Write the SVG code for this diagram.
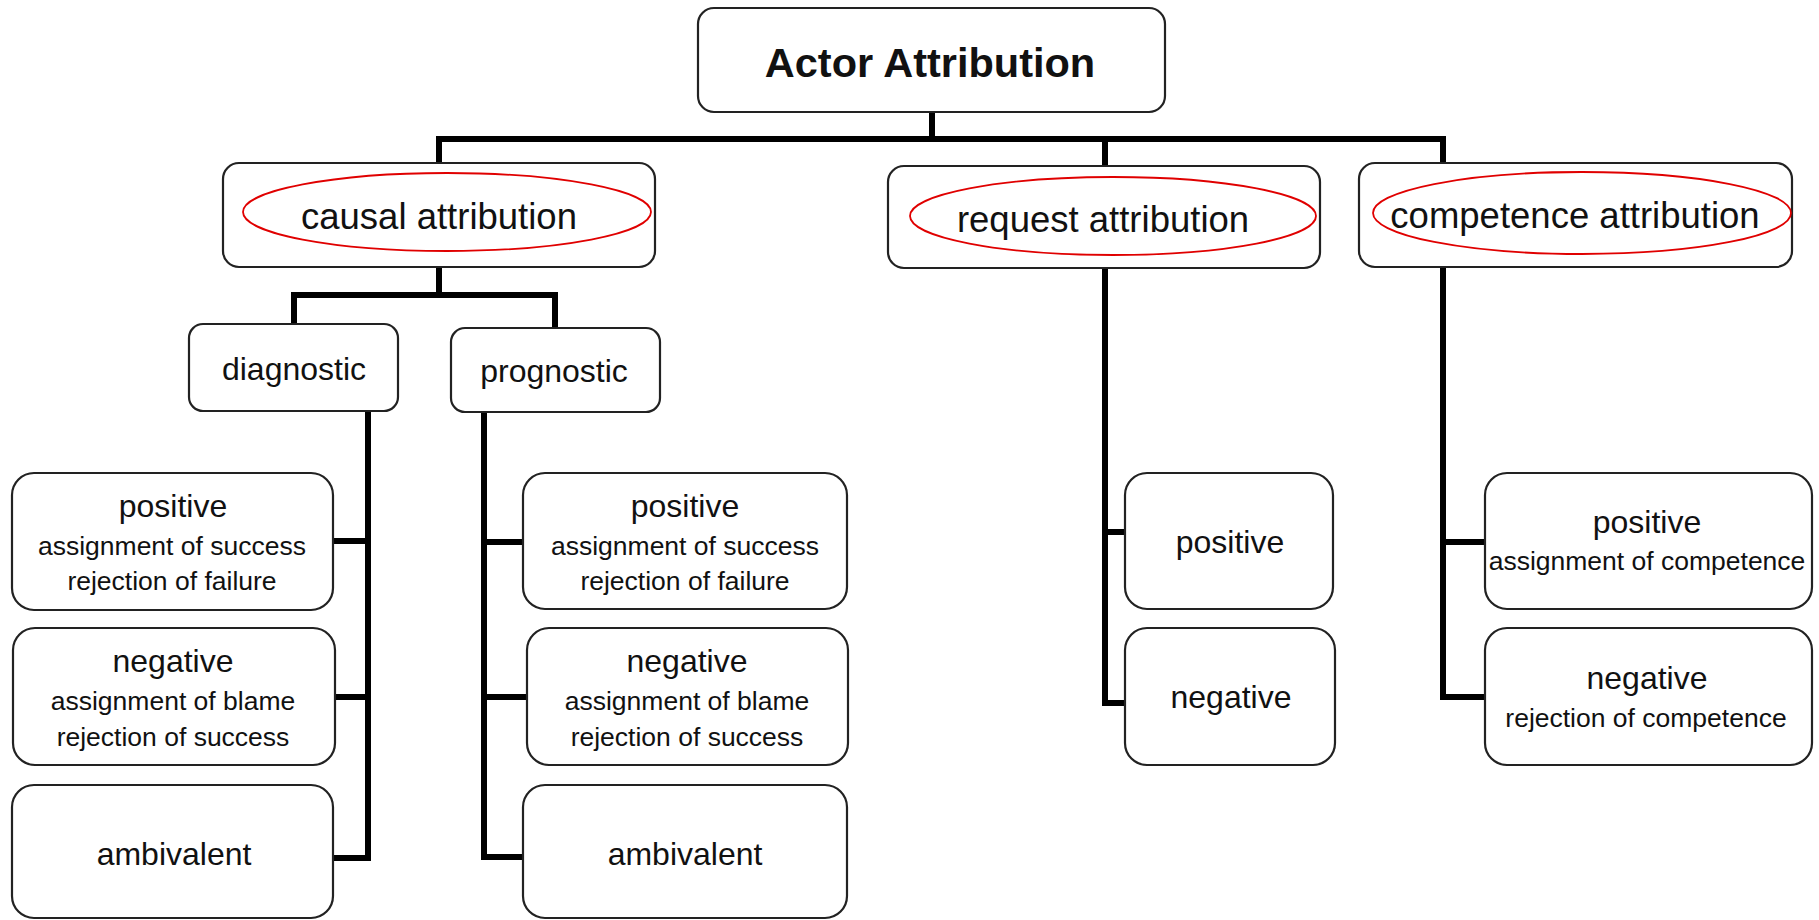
<svg xmlns="http://www.w3.org/2000/svg" width="1819" height="920" viewBox="0 0 1819 920">
<style>
.box{fill:#fff;stroke:#222;stroke-width:2.2}
.conn{fill:none;stroke:#000;stroke-width:6;stroke-linejoin:miter;stroke-linecap:square}
.ring{fill:none;stroke:#e00000;stroke-width:1.8}
text{font-family:"Liberation Sans",Arial,sans-serif;fill:#111;text-anchor:middle}
.title{font-size:41.5px;font-weight:bold}
.l1{font-size:36.5px}
.l2{font-size:32px}
.l3{font-size:26.5px}
</style>
<rect width="1819" height="920" fill="#fff"/>
<g id="connectors">
<path class="conn" d="M932,112 V139"/>
<path class="conn" d="M439,163 V139 H1443 V163"/>
<path class="conn" d="M1105,139 V166"/>
<path class="conn" d="M439,267 V295"/>
<path class="conn" d="M294,323 V295 H555 V328"/>
<path class="conn" d="M368,411 V858 H334"/>
<path class="conn" d="M334,541 H368"/>
<path class="conn" d="M336,697 H368"/>
<path class="conn" d="M484,412 V857 H523"/>
<path class="conn" d="M484,542 H523"/>
<path class="conn" d="M484,697 H527"/>
<path class="conn" d="M1105,268 V703 H1125"/>
<path class="conn" d="M1105,532 H1125"/>
<path class="conn" d="M1443,267 V697 H1485"/>
<path class="conn" d="M1443,542 H1485"/>
</g>
<g id="actor-attribution">
<rect class="box" x="698" y="8" width="467" height="104" rx="16"/>
<text class="title" x="930" y="77">Actor Attribution</text>
</g>
<g id="causal-attribution">
<rect class="box" x="223" y="163" width="432" height="104" rx="16"/>
<ellipse class="ring" cx="447" cy="212" rx="204" ry="39"/>
<text class="l1" x="439" y="229">causal attribution</text>
</g>
<g id="request-attribution">
<rect class="box" x="888" y="166" width="432" height="102" rx="16"/>
<ellipse class="ring" cx="1113" cy="216" rx="203" ry="39"/>
<text class="l1" x="1103" y="232">request attribution</text>
</g>
<g id="competence-attribution">
<rect class="box" x="1359" y="163" width="433" height="104" rx="16"/>
<ellipse class="ring" cx="1582" cy="213" rx="209" ry="41"/>
<text class="l1" x="1575" y="228">competence attribution</text>
</g>
<g id="diagnostic">
<rect class="box" x="189" y="324" width="209" height="87" rx="14"/>
<text class="l2" x="294" y="380">diagnostic</text>
</g>
<g id="prognostic">
<rect class="box" x="451" y="328" width="209" height="84" rx="14"/>
<text class="l2" x="554" y="382">prognostic</text>
</g>
<g id="diag-positive">
<rect class="box" x="12" y="473" width="321" height="137" rx="22"/>
<text class="l2" x="173" y="517">positive</text>
<text class="l3" x="172" y="555">assignment of success</text>
<text class="l3" x="172" y="590">rejection of failure</text>
</g>
<g id="diag-negative">
<rect class="box" x="13" y="628" width="322" height="137" rx="22"/>
<text class="l2" x="173" y="672">negative</text>
<text class="l3" x="173" y="710">assignment of blame</text>
<text class="l3" x="173" y="746">rejection of success</text>
</g>
<g id="diag-ambivalent">
<rect class="box" x="12" y="785" width="321" height="133" rx="22"/>
<text class="l2" x="174" y="865">ambivalent</text>
</g>
<g id="prog-positive">
<rect class="box" x="523" y="473" width="324" height="136" rx="22"/>
<text class="l2" x="685" y="517">positive</text>
<text class="l3" x="685" y="555">assignment of success</text>
<text class="l3" x="685" y="590">rejection of failure</text>
</g>
<g id="prog-negative">
<rect class="box" x="527" y="628" width="321" height="137" rx="22"/>
<text class="l2" x="687" y="672">negative</text>
<text class="l3" x="687" y="710">assignment of blame</text>
<text class="l3" x="687" y="746">rejection of success</text>
</g>
<g id="prog-ambivalent">
<rect class="box" x="523" y="785" width="324" height="133" rx="22"/>
<text class="l2" x="685" y="865">ambivalent</text>
</g>
<g id="req-positive">
<rect class="box" x="1125" y="473" width="208" height="136" rx="22"/>
<text class="l2" x="1230" y="553">positive</text>
</g>
<g id="req-negative">
<rect class="box" x="1125" y="628" width="210" height="137" rx="22"/>
<text class="l2" x="1231" y="708">negative</text>
</g>
<g id="comp-positive">
<rect class="box" x="1485" y="473" width="327" height="136" rx="22"/>
<text class="l2" x="1647" y="533">positive</text>
<text class="l3" x="1647" y="570">assignment of competence</text>
</g>
<g id="comp-negative">
<rect class="box" x="1485" y="628" width="327" height="137" rx="22"/>
<text class="l2" x="1647" y="689">negative</text>
<text class="l3" x="1646" y="727">rejection of competence</text>
</g>
</svg>
